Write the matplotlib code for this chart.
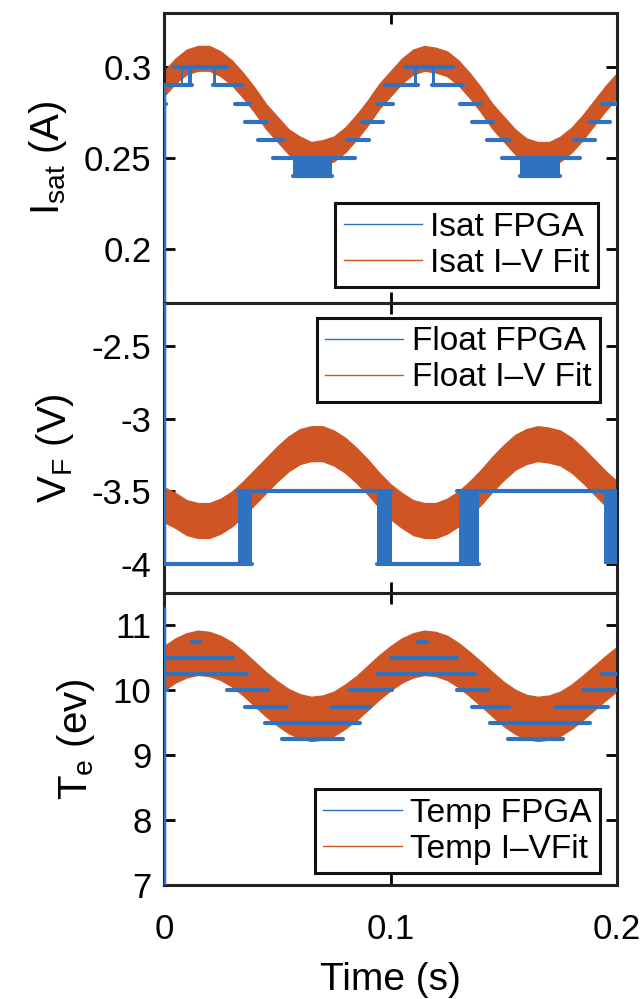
#IMPORTS

import numpy as np
import matplotlib
matplotlib.use("Agg")
import matplotlib.pyplot as plt
from matplotlib.lines import Line2D
from matplotlib.ticker import FormatStrFormatter


#DATA

fit_time = np.linspace(0, 0.2, 41)  # s, I-V fit sampled every 5 ms

isat_fit = [0.291, 0.298, 0.303, 0.305, 0.305, 0.302, 0.297, 0.290, 0.282, 0.273,
            0.266, 0.259, 0.255, 0.252, 0.253, 0.255, 0.260, 0.267, 0.275, 0.284,
            0.291, 0.298, 0.303, 0.305, 0.304, 0.302, 0.297, 0.290, 0.282, 0.273,
            0.266, 0.259, 0.254, 0.252, 0.252, 0.255, 0.260, 0.267, 0.275, 0.283,
            0.290]

vf_fit = [-3.59, -3.63, -3.68, -3.70, -3.70, -3.67, -3.62, -3.55, -3.47, -3.39,
          -3.31, -3.24, -3.19, -3.17, -3.17, -3.20, -3.25, -3.32, -3.40, -3.49,
          -3.57, -3.63, -3.68, -3.70, -3.70, -3.67, -3.62, -3.55, -3.47, -3.38,
          -3.30, -3.23, -3.19, -3.17, -3.18, -3.20, -3.25, -3.32, -3.40, -3.48,
          -3.55]

te_fit = [10.34, 10.46, 10.54, 10.58, 10.56, 10.50, 10.40, 10.26, 10.10, 9.94,
          9.80, 9.68, 9.60, 9.56, 9.58, 9.64, 9.75, 9.88, 10.04, 10.20,
          10.34, 10.46, 10.54, 10.58, 10.56, 10.50, 10.39, 10.25, 10.10, 9.94,
          9.79, 9.67, 9.59, 9.56, 9.58, 9.64, 9.75, 9.89, 10.04, 10.19,
          10.33]

# first samples at t = 0 (start-up transient)
isat_fit_start = [0.268, 0.291]
vf_fit_start = [-4.0, -3.35]
te_fit_start = [9.95, 10.9]
isat_fpga_start = [0.0, 0.29]
vf_fpga_start = [0.0, -4.0]
te_fpga_start = [0.0, 11.28]

# FPGA outputs, quantised levels: (start s, end s, level)
isat_fpga = [(0.0, 0.0122, 0.29), (0.0042, 0.0277, 0.30), (0.0218, 0.0343, 0.29),
             (0.0313, 0.0380, 0.28), (0.0358, 0.0454, 0.27), (0.0416, 0.0527, 0.26),
             (0.0483, 0.0844, 0.25), (0.0571, 0.0741, 0.24), (0.0806, 0.0903, 0.26),
             (0.0874, 0.0968, 0.27), (0.0939, 0.1013, 0.28), (0.0976, 0.1123, 0.29),
             (0.1065, 0.1278, 0.30), (0.1182, 0.1322, 0.29), (0.1307, 0.1396, 0.28),
             (0.1359, 0.1454, 0.27), (0.1425, 0.1521, 0.26), (0.1491, 0.1837, 0.25),
             (0.1572, 0.1749, 0.24), (0.1808, 0.1903, 0.26), (0.1881, 0.1969, 0.27),
             (0.1932, 0.2000, 0.28), (0.0, 0.0008, 0.28)]

vf_fpga = [(0.0, 0.0387, -4.0), (0.0324, 0.1005, -3.5),
           (0.0940, 0.1391, -4.0), (0.1292, 0.2000, -3.5)]

te_fpga = [(0.0, 0.0306, 10.5), (0.0, 0.0365, 10.25), (0.0122, 0.0159, 10.75),
           (0.0, 0.0012, 10.0), (0.0280, 0.0461, 10.0), (0.0358, 0.0542, 9.75),
           (0.0446, 0.0866, 9.5), (0.0520, 0.0792, 9.25), (0.0740, 0.0910, 9.75),
           (0.0821, 0.1005, 10.0), (0.0939, 0.1373, 10.25), (0.1001, 0.1292, 10.5),
           (0.1123, 0.1160, 10.75), (0.1292, 0.1432, 10.0), (0.1359, 0.1521, 9.75),
           (0.1439, 0.1881, 9.5), (0.1517, 0.1763, 9.25), (0.1731, 0.1962, 9.75),
           (0.1852, 0.2000, 10.0), (0.1932, 0.2000, 10.25)]

# toggling between two adjacent levels: (start s, end s, low, high)
isat_chatter = [(0.0571, 0.0741, 0.24, 0.25), (0.1572, 0.1749, 0.24, 0.25),
                (0.0075, 0.0085, 0.29, 0.30), (0.0105, 0.0122, 0.29, 0.30),
                (0.0218, 0.0228, 0.29, 0.30), (0.1105, 0.1115, 0.29, 0.30),
                (0.1185, 0.1195, 0.29, 0.30)]
vf_chatter = [(0.0328, 0.0387, -4.0, -3.5), (0.0940, 0.1005, -4.0, -3.5),
              (0.1303, 0.1391, -4.0, -3.5), (0.1944, 0.2000, -4.0, -3.5)]
te_chatter = []

legend_labels = [["Isat FPGA", "Isat I\u2013V Fit"],
                 ["Float FPGA", "Float I\u2013V Fit"],
                 ["Temp FPGA", "Temp I\u2013VFit"]]


#STYLE

blue = "#2f72c0"
orange = "#cf5624"

plt.rcParams["font.family"] = ["Liberation Sans", "DejaVu Sans"]
plt.rcParams["mathtext.fontset"] = "custom"
plt.rcParams["mathtext.rm"] = "Liberation Sans"
plt.rcParams["mathtext.it"] = "Liberation Sans:italic"
plt.rcParams["axes.unicode_minus"] = False


#FUNCTIONS

def draw_panel(ax, fit, half_width, fit_start, steps, chatter, fpga_start):
    fit = np.array(fit)
    ax.fill_between(fit_time, fit - half_width, fit + half_width,
                    color=orange, edgecolor=orange, linewidth=1, zorder=2)
    ax.vlines(fit_time[0], min(fit_start), max(fit_start), color=orange,
              linewidth=1.5, zorder=2)

    starts, ends, levels = zip(*steps)
    segments = ax.hlines(levels, starts, ends, color=blue, linewidth=3, zorder=3)
    segments.set_capstyle("round")

    for t0, t1, low, high in chatter:
        ax.bar(t0, high - low, width=t1 - t0, bottom=low, align="edge",
               color=blue, linewidth=0, zorder=3)

    ax.vlines(fit_time[0], min(fpga_start), max(fpga_start), color=blue,
              linewidth=2.5, zorder=3)


def add_legend(ax, labels, loc, anchor):
    handles = [Line2D([], [], color=blue, linewidth=1.0),
               Line2D([], [], color=orange, linewidth=1.0)]
    legend = ax.legend(handles, labels, loc=loc, bbox_to_anchor=anchor,
                       fontsize=24, borderaxespad=0, labelspacing=0.15,
                       handlelength=2.35, handletextpad=0.25, borderpad=0.25,
                       fancybox=False, framealpha=1, edgecolor="#111111")
    legend.get_frame().set_linewidth(2.2)
    legend.set_zorder(5)


#PLOT

fig = plt.figure(figsize=(6.44, 9.99), dpi=100)

left = 164 / 644
width = 453 / 644
ax_isat = fig.add_axes([left, 1 - 303 / 999, width, 290 / 999])
ax_vf = fig.add_axes([left, 1 - 593 / 999, width, 290 / 999], sharex=ax_isat)
ax_te = fig.add_axes([left, 1 - 885 / 999, width, 292 / 999], sharex=ax_isat)

draw_panel(ax_isat, isat_fit, 0.0068, isat_fit_start, isat_fpga, isat_chatter, isat_fpga_start)
draw_panel(ax_vf, vf_fit, 0.12, vf_fit_start, vf_fpga, vf_chatter, vf_fpga_start)
draw_panel(ax_te, te_fit, 0.34, te_fit_start, te_fpga, te_chatter, te_fpga_start)

ax_isat.set_ylim(0.17, 0.33)
ax_isat.set_yticks([0.2, 0.25, 0.3])
ax_vf.set_ylim(-4.2, -2.2)
ax_vf.set_yticks([-4, -3.5, -3, -2.5])
ax_te.set_ylim(7, 11.5)
ax_te.set_yticks([7, 8, 9, 10, 11])

ax_te.set_xlim(0, 0.2)
ax_te.set_xticks([0, 0.1, 0.2])
ax_te.xaxis.set_major_formatter(FormatStrFormatter("%g"))

ax_isat.set_ylabel(r"I$_{\mathrm{sat}}$ (A)", fontsize=29, labelpad=11)
ax_vf.set_ylabel(r"V$_{\mathrm{F}}$ (V)", fontsize=29, labelpad=11)
ax_te.set_ylabel(r"T$_{\mathrm{e}}$ (ev)", fontsize=29, labelpad=11)
ax_te.set_xlabel("Time (s)", fontsize=28, labelpad=12)

for ax in (ax_isat, ax_vf, ax_te):
    ax.yaxis.set_major_formatter(FormatStrFormatter("%g"))
    ax.tick_params(direction="in", length=8, width=2, top=True, right=True,
                   labelsize=25, pad=9)
    ax.tick_params(axis="x", pad=20)
    for spine in ax.spines.values():
        spine.set_linewidth(2.2)
        spine.set_color("#222222")

for ax in (ax_isat, ax_vf):
    ax.tick_params(labelbottom=False)

add_legend(ax_isat, legend_labels[0], "lower right", (0.958, 0.055))
add_legend(ax_vf, legend_labels[1], "upper right", (0.962, 0.948))
add_legend(ax_te, legend_labels[2], "lower right", (0.962, 0.041))

fig.savefig("out.png", dpi=100)
